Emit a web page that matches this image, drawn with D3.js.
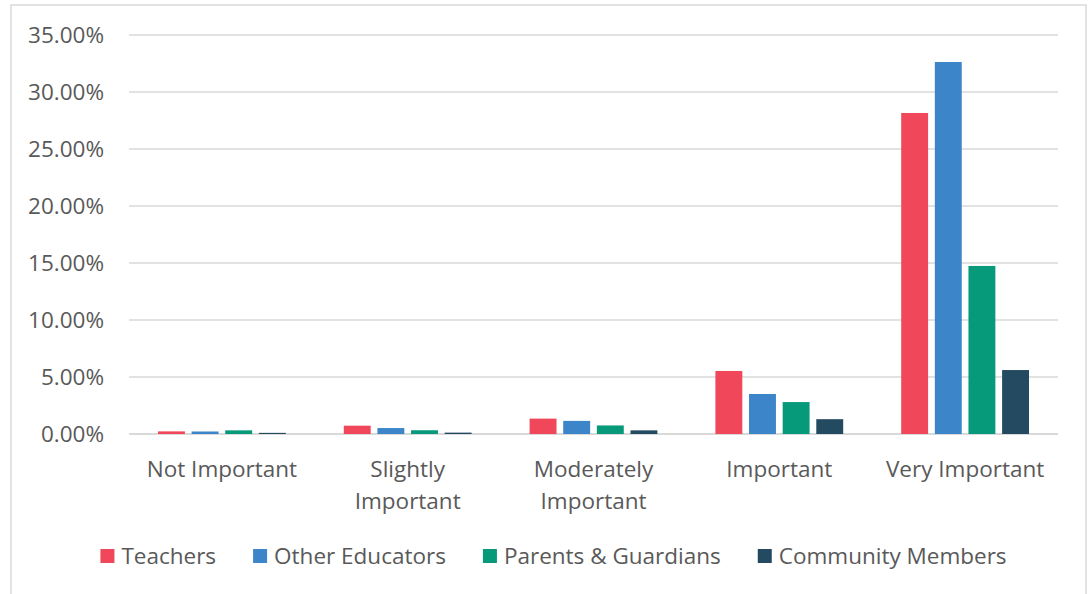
<!DOCTYPE html>
<html>
<head>
<meta charset="utf-8">
<script src="https://cdn.jsdelivr.net/npm/d3@7"></script>
<style>
  body { margin: 0; background: #fff; }
  svg text { font-family: "Open Sans", "Noto Sans", sans-serif; fill: #595959; }
</style>
</head>
<body>
<div id="chart"></div>
<script>
const WIDTH = 1089;
const HEIGHT = 594;

// data (percent)
const categories = ["Not Important", "Slightly Important", "Moderately Important", "Important", "Very Important"];
const categoryLines = [["Not Important"], ["Slightly", "Important"], ["Moderately", "Important"], ["Important"], ["Very Important"]];
const seriesNames = ["Teachers", "Other Educators", "Parents & Guardians", "Community Members"];
const teachers = [0.23, 0.73, 1.35, 5.53, 28.16];
const otherEducators = [0.22, 0.52, 1.15, 3.51, 32.63];
const parents = [0.32, 0.33, 0.75, 2.80, 14.74];
const community = [0.10, 0.12, 0.32, 1.30, 5.61];
const yTicks = [0, 5, 10, 15, 20, 25, 30, 35];

const colors = ["#F0475A", "#3B85C8", "#06997A", "#234A60"];
const allSeries = [teachers, otherEducators, parents, community];
const FONT = "22.5px";

function setup(){
    let svg = d3.select("#chart")
        .append("svg")
        .attr("width", WIDTH)
        .attr("height", HEIGHT);

    // outer frame
    svg.append("rect")
        .attr("x", 11).attr("y", 5)
        .attr("width", 1075).attr("height", 620)
        .attr("fill", "none")
        .attr("stroke", "#D9D9D9")
        .attr("stroke-width", 1.5);

    let x0 = d3.scaleBand()
        .domain(categories)
        .range([129, 1058]);
    let x1 = d3.scaleBand()
        .domain(seriesNames)
        .range([29, x0.bandwidth() - 29])
        .paddingInner(0.2);
    let y = d3.scaleLinear()
        .domain([0, 35])
        .range([434, 35]);

    // gridlines
    svg.append("g").selectAll("line")
        .data(yTicks)
        .enter()
        .append("line")
        .attr("x1", 129).attr("x2", 1058)
        .attr("y1", d => y(d)).attr("y2", d => y(d))
        .attr("stroke", "#D9D9D9")
        .attr("stroke-width", d => d === 0 ? 1.8 : 1.3);

    // y labels
    svg.append("g").selectAll("text")
        .data(yTicks)
        .enter()
        .append("text")
        .attr("x", 104)
        .attr("y", d => y(d))
        .attr("dy", "0.35em")
        .attr("text-anchor", "end")
        .style("font-size", FONT)
        .text(d => d.toFixed(2) + "%");

    // bars
    let groups = svg.append("g").selectAll("g")
        .data(categories)
        .enter()
        .append("g")
        .attr("transform", c => `translate(${x0(c)},0)`);

    groups.selectAll("rect")
        .data((c, i) => seriesNames.map((s, j) => ({ s: s, v: allSeries[j][i], j: j })))
        .enter()
        .append("rect")
        .attr("x", d => x1(d.s))
        .attr("width", x1.bandwidth())
        .attr("y", d => y(d.v))
        .attr("height", d => y(0) - y(d.v))
        .attr("fill", d => colors[d.j]);

    // category labels
    let catLabels = svg.append("g").selectAll("text")
        .data(categories)
        .enter()
        .append("text")
        .attr("text-anchor", "middle")
        .style("font-size", FONT)
        .attr("transform", c => `translate(${x0(c) + x0.bandwidth() / 2},469)`);
    catLabels.selectAll("tspan")
        .data((c, i) => categoryLines[i])
        .enter()
        .append("tspan")
        .attr("x", 0)
        .attr("y", (d, i) => i * 32)
        .attr("dy", "0.35em")
        .text(d => d);

    // legend
    let legend = svg.append("g");
    let cx = 0;
    seriesNames.forEach((name, i) => {
        let item = legend.append("g").attr("transform", `translate(${cx},0)`);
        item.append("rect")
            .attr("x", 0).attr("y", -7)
            .attr("width", 14).attr("height", 14)
            .attr("fill", colors[i]);
        let t = item.append("text")
            .attr("x", 21)
            .attr("y", 0)
            .attr("dy", "0.35em")
            .style("font-size", FONT)
            .text(name);
        cx += 21 + t.node().getComputedTextLength() + 37;
    });
    let legendWidth = cx - 37;
    legend.attr("transform", `translate(${553.5 - legendWidth / 2},556)`);
}

window.addEventListener("load", setup);
</script>
</body>
</html>
